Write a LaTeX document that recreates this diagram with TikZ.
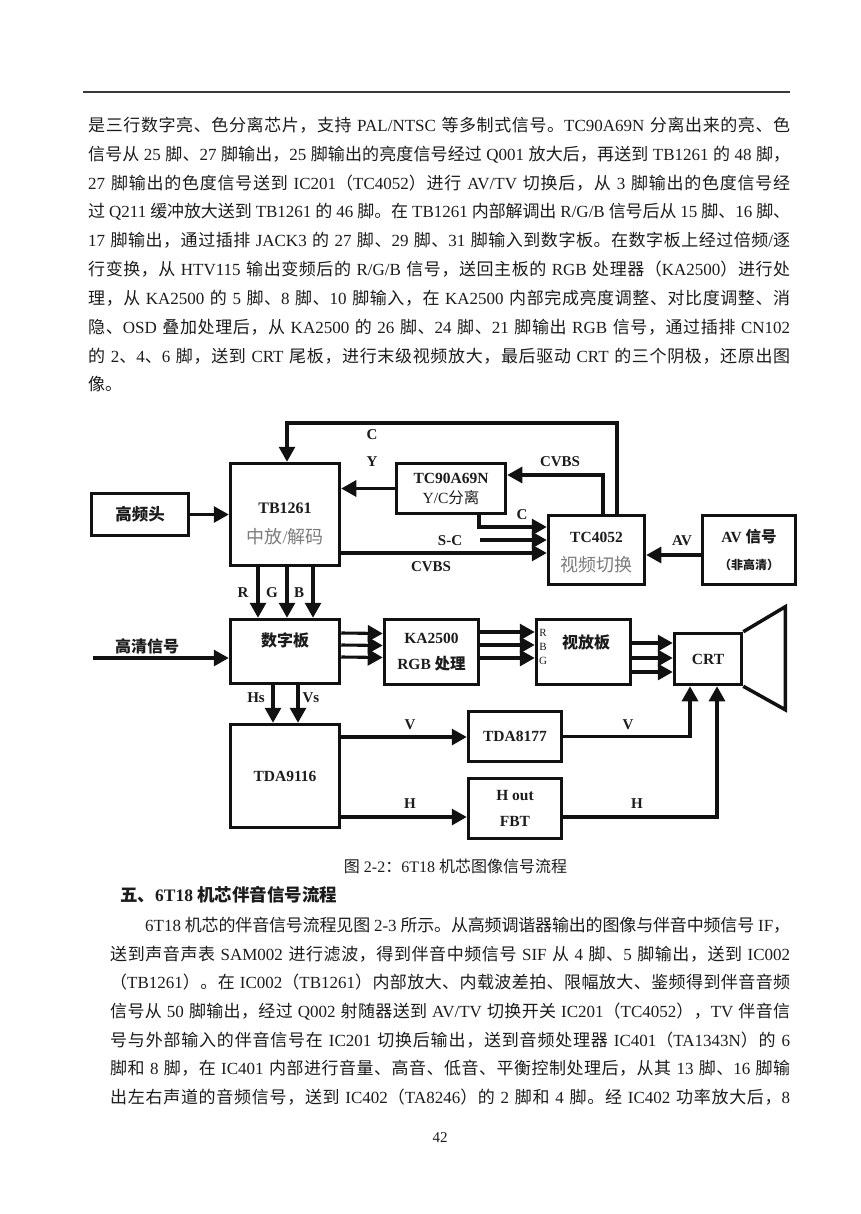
\documentclass[tikz,border=0pt]{standalone}
\usepackage{fontspec}
\setmainfont{Liberation Serif}
\newfontfamily\cjkfont{Noto Sans CJK SC}
\usetikzlibrary{arrows.meta}
\definecolor{TextDunkel}{HTML}{1C1C1C}
\definecolor{TextGrau}{HTML}{7C7C7C}
\definecolor{Linie}{HTML}{111111}
\definecolor{Regel}{HTML}{3A3A3A}

% Umschaltung Latein/CJK ueber Zeichenklassen
\XeTeXinterchartokenstate=1
\chardef\CjkKlasse=7
\newcount\zchar
\def\cjkbereich#1#2{\zchar=#1\relax
  \loop\XeTeXcharclass\zchar=\CjkKlasse\relax
  \ifnum\zchar<#2\relax\advance\zchar by 1\relax\repeat}
\cjkbereich{"3000}{"303F}
\cjkbereich{"4E00}{"9FFF}
\cjkbereich{"FF00}{"FFEF}
\XeTeXinterchartoks 0 \CjkKlasse = {\cjkfont}
\XeTeXinterchartoks 4095 \CjkKlasse = {\cjkfont}
\XeTeXinterchartoks \CjkKlasse 0 = {\rmfamily}
\XeTeXinterchartoks \CjkKlasse 4095 = {\rmfamily}
\XeTeXinterchartoks \CjkKlasse \CjkKlasse = {\hskip 0pt plus 1pt minus 0.5pt\relax}

\begin{document}
\begin{tikzpicture}[x=1pt, y=-1pt,
    zeile/.style={anchor=base west, inner sep=0pt, text=TextDunkel, font=\fontsize{17}{20}\selectfont},
    kasten/.style={draw=Linie, line width=3.5pt, fill=white, inner sep=0pt, align=center, text=TextDunkel, font=\fontsize{15.5}{18}\selectfont\bfseries},
    inhalt/.style={inner sep=0pt, align=center, text=TextDunkel, font=\fontsize{15.5}{18}\selectfont\bfseries},
    marke/.style={inner sep=0pt, text=TextDunkel, font=\fontsize{15}{17}\selectfont\bfseries},
    pfeil/.style={draw=Linie, line width=3.1pt, -{Triangle[length=15pt,width=16pt]}}]

  % Seitenhintergrund (860 x 1214)
  \fill[white] (0,0) rectangle (860,1214);
  \useasboundingbox (0,0) rectangle (860,1214);

  % Kopflinie
  \draw[Regel, line width=1.4pt] (83,92) -- (790,92);

  % Makro fuer eine Blocksatzzeile
  % Parameter: 1=Name, 2=x, 3=Grundlinie, 4=Breite, 5=Text
  \def\zeile#1#2#3#4#5{\node[zeile] (#1) at (#2,#3) {\hbox to #4pt{#5}};}

  % Absatz oben
  \zeile{a1}{88}{131.3}{702}{是三行数字亮、色分离芯片，支持 PAL/NTSC 等多制式信号。TC90A69N 分离出来的亮、色}
  \zeile{a2}{88}{160.2}{702}{信号从 25 脚、27 脚输出，25 脚输出的亮度信号经过 Q001 放大后，再送到 TB1261 的 48 脚，}
  \zeile{a3}{88}{189.1}{702}{27 脚输出的色度信号送到 IC201（TC4052）进行 AV/TV 切换后，从 3 脚输出的色度信号经}
  \zeile{a4}{88}{218.0}{702}{过 Q211 缓冲放大送到 TB1261 的 46 脚。在 TB1261 内部解调出 R/G/B 信号后从 15 脚、16 脚、}
  \zeile{a5}{88}{246.9}{702}{17 脚输出，通过插排 JACK3 的 27 脚、29 脚、31 脚输入到数字板。在数字板上经过倍频/逐}
  \zeile{a6}{88}{275.8}{702}{行变换，从 HTV115 输出变频后的 R/G/B 信号，送回主板的 RGB 处理器（KA2500）进行处}
  \zeile{a7}{88}{304.7}{702}{理，从 KA2500 的 5 脚、8 脚、10 脚输入，在 KA2500 内部完成亮度调整、对比度调整、消}
  \zeile{a8}{88}{333.6}{702}{隐、OSD 叠加处理后，从 KA2500 的 26 脚、24 脚、21 脚输出 RGB 信号，通过插排 CN102}
  \zeile{a9}{88}{362.5}{702}{的 2、4、6 脚，送到 CRT 尾板，进行末级视频放大，最后驱动 CRT 的三个阴极，还原出图}
  \node[zeile] (a10) at (88,390.4) {像。};

  % Bloecke oben
  \node[kasten, minimum width=97pt, minimum height=42pt, font=\fontsize{16.5}{18}\selectfont\bfseries] (hf) at (140,514.5) {高频头};
  \node[kasten, minimum width=109pt, minimum height=102pt] (tb) at (285,514.5) {};
  \node[inhalt, font=\fontsize{16}{18}\selectfont\bfseries] (tbname) at (285,508) {TB1261};
  \node[inhalt, text=TextGrau, font=\fontsize{18}{20}\selectfont] (tbfkt) at (285,537) {中放/解码};
  \node[kasten, minimum width=109pt, minimum height=50pt] (yc) at (451,488.5) {TC90A69N\\[2pt]{\mdseries Y/C分离}};
  \node[kasten, minimum width=96pt, minimum height=69pt] (sw) at (596.5,550) {};
  \node[inhalt] (swname) at (596.5,537) {TC4052};
  \node[inhalt, text=TextGrau, font=\fontsize{18}{20}\selectfont] (swfkt) at (596.5,565) {视频切换};
  \node[kasten, minimum width=93pt, minimum height=69pt] (av) at (749,550) {};
  \node[inhalt] (avname) at (749,537) {AV 信号};
  \node[inhalt, font=\fontsize{12}{14}\selectfont\bfseries] (avart) at (749,565) {（非高清）};

  % Bloecke Mitte
  \node[kasten, minimum width=109pt, minimum height=64pt] (dp) at (285,651.5) {};
  \node[inhalt, font=\fontsize{16}{18}\selectfont\bfseries] (dpname) at (285,640) {数字板};
  \node[kasten, minimum width=94pt, minimum height=65pt] (ka) at (431.5,652) {KA2500\\[8pt]RGB 处理};
  \node[kasten, minimum width=94pt, minimum height=65pt] (vb) at (583.5,652) {};
  \node[inhalt, font=\fontsize{16}{18}\selectfont\bfseries] (vbname) at (586,642) {视放板};
  \foreach \t/\y in {R/633,B/647,G/661}
    \node[inhalt, font=\fontsize{11}{12}\selectfont\mdseries] (vb\t) at (543,\y) {\t};
  \node[kasten, minimum width=67pt, minimum height=51pt] (crt) at (708,659) {CRT};
  \draw[Linie, line width=3.5pt, line join=miter] (crt.north east) -- ++(42,-25) -- ++(0,103) -- (crt.south east);

  % Bloecke unten
  \node[kasten, minimum width=109pt, minimum height=103pt] (tda) at (285,776) {TDA9116};
  \node[kasten, minimum width=93pt, minimum height=50pt] (vo) at (515,736.5) {TDA8177};
  \node[kasten, minimum width=93pt, minimum height=60pt] (ho) at (515,808.5) {H out\\[8pt]FBT};

  % Verbindungen oben
  \coordinate (oben) at (287,423);
  \coordinate (sc) at (480,540);
  \coordinate (hd) at (93,658);
  \draw[pfeil] (hf) -- (tb);
  \draw[pfeil] ([xshift=20.5pt]sw.north) |- (oben) -- (oben |- tb.north);
  \draw[pfeil] (yc.west) -- (yc.west -| tb.east);
  \draw[pfeil] ([xshift=6.5pt]sw.north) |- ([yshift=13.5pt]yc.east);
  \draw[pfeil] ([xshift=28pt]yc.south) |- ([yshift=23pt]sw.west);
  \draw[pfeil] (sc) -- (sc -| sw.west);
  \draw[pfeil] ([yshift=-38.5pt]tb.east) -- ([yshift=-3pt]sw.west);
  \draw[pfeil] ([yshift=-5pt]av.west) -- ([yshift=-5pt]sw.east);

  % Verbindungen Mitte
  \foreach \dx in {-27,2,28}
    \draw[pfeil] ([xshift=\dx pt]tb.south) -- ([xshift=\dx pt]dp.north);
  \draw[pfeil] (hd) -- (hd -| dp.west);
  \foreach \dy in {18.5,6.5,-5.5}
    \draw[pfeil] ([yshift=\dy pt]dp.east) -- ([yshift=\dy pt]ka.west);
  \foreach \dy in {20,7,-6}
    \draw[pfeil] ([yshift=\dy pt]ka.east) -- ([yshift=\dy pt]vb.west);
  \foreach \dy in {9,-6,-20}
    \draw[pfeil] ([yshift=\dy pt]vb.east) -- ([yshift=\dy pt+7pt]crt.west);

  % Verbindungen unten
  \foreach \dx in {-12,13}
    \draw[pfeil] ([xshift=\dx pt]dp.south) -- ([xshift=\dx pt]tda.north);
  \draw[pfeil] ([yshift=39pt]tda.east) -- ([yshift=-0.5pt]vo.west);
  \draw[pfeil] ([yshift=-41pt]tda.east) -- ([yshift=-8.5pt]ho.west);
  \draw[pfeil] (vo.east) -| ([xshift=-18pt]crt.south);
  \draw[pfeil] ([yshift=-8.5pt]ho.east) -| ([xshift=9pt]crt.south);

  % Signalbezeichnungen
  \node[marke] (lc1) at (372,435) {C};
  \node[marke] (ly) at (372,462) {Y};
  \node[marke] (lcv1) at (560,462) {CVBS};
  \node[marke] (lc2) at (522,515) {C};
  \node[marke] (lsc) at (450,541) {S-C};
  \node[marke] (lcv2) at (431,567) {CVBS};
  \node[marke] (lav) at (682,541) {AV};
  \foreach \t/\x in {R/243,G/272,B/299}
    \node[marke] (l\t) at (\x,593) {\t};
  \node[marke, font=\fontsize{16}{18}\selectfont\bfseries] (lhd) at (147,646) {高清信号};
  \node[marke] (lhs) at (256,698) {Hs};
  \node[marke] (lvs) at (311,698) {Vs};
  \node[marke] (lv1) at (410,725) {V};
  \node[marke] (lh1) at (410,804) {H};
  \node[marke] (lv2) at (628,725) {V};
  \node[marke] (lh2) at (637,804) {H};

  % Bildunterschrift und Ueberschrift
  \node[anchor=base, inner sep=0pt, text=TextDunkel, font=\fontsize{16}{18}\selectfont] (bild) at (455.5,872.6) {图 2-2：6T18 机芯图像信号流程};
  \node[zeile, font=\fontsize{17.5}{20}\selectfont\bfseries] (titel) at (120,901.5) {五、6T18 机芯伴音信号流程};

  % Absatz unten
  \zeile{b1}{145}{931.3}{645}{6T18 机芯的伴音信号流程见图 2-3 所示。从高频调谐器输出的图像与伴音中频信号 IF，}
  \zeile{b2}{110}{960.0}{680}{送到声音声表 SAM002 进行滤波，得到伴音中频信号 SIF 从 4 脚、5 脚输出，送到 IC002}
  \zeile{b3}{110}{988.7}{680}{（TB1261）。在 IC002（TB1261）内部放大、内载波差拍、限幅放大、鉴频得到伴音音频}
  \zeile{b4}{110}{1017.4}{680}{信号从 50 脚输出，经过 Q002 射随器送到 AV/TV 切换开关 IC201（TC4052），TV 伴音信}
  \zeile{b5}{110}{1046.1}{680}{号与外部输入的伴音信号在 IC201 切换后输出，送到音频处理器 IC401（TA1343N）的 6}
  \zeile{b6}{110}{1074.8}{680}{脚和 8 脚，在 IC401 内部进行音量、高音、低音、平衡控制处理后，从其 13 脚、16 脚输}
  \zeile{b7}{110}{1103.5}{680}{出左右声道的音频信号，送到 IC402（TA8246）的 2 脚和 4 脚。经 IC402 功率放大后，8}

  % Seitenzahl
  \node[anchor=base, inner sep=0pt, text=TextDunkel, font=\fontsize{15}{17}\selectfont] (seite) at (440,1142) {42};

\end{tikzpicture}
\end{document}
